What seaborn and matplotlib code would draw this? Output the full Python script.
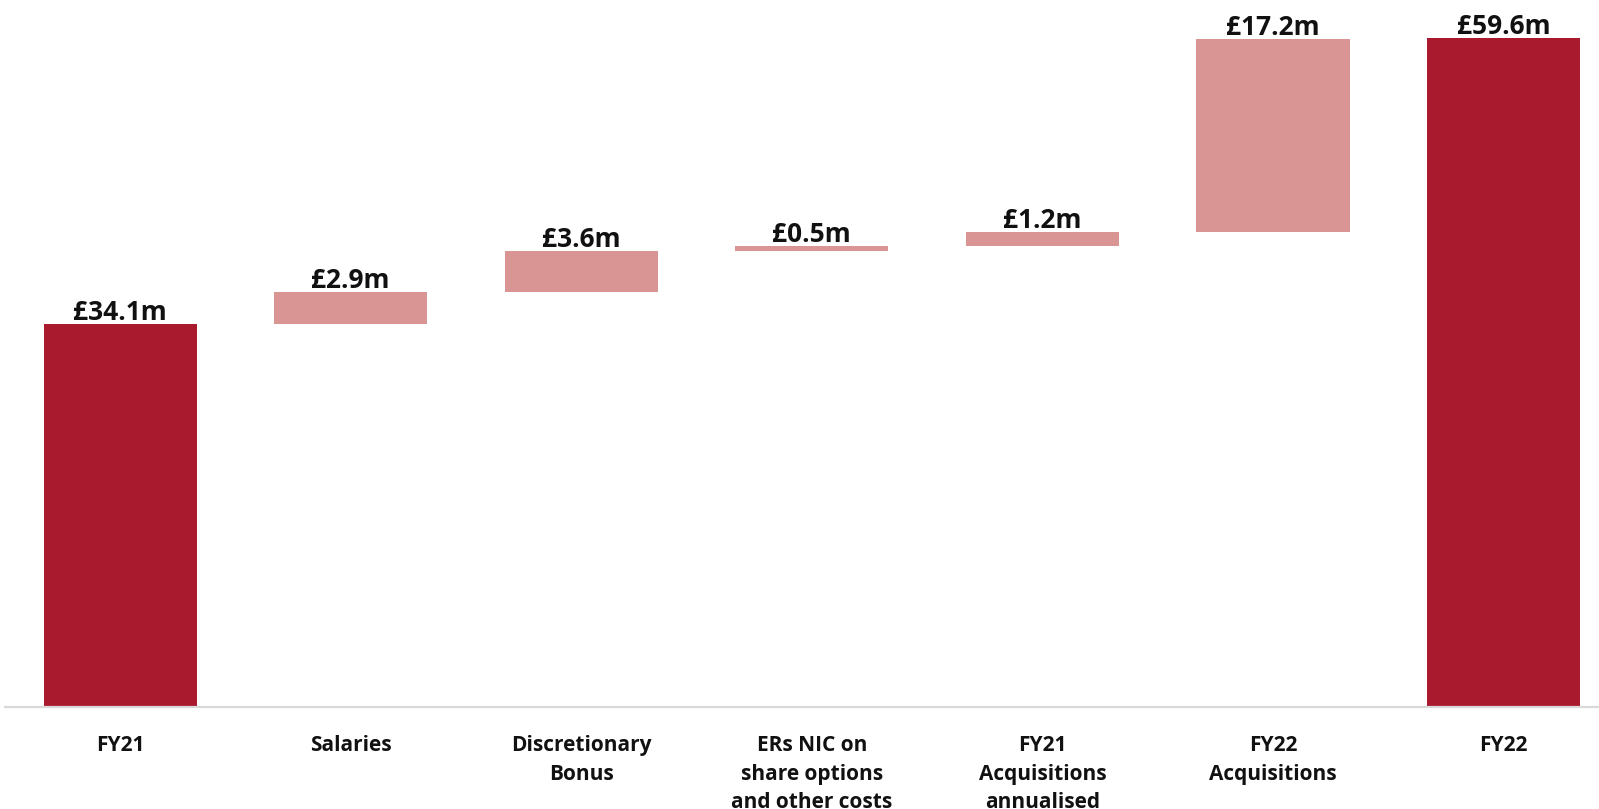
import matplotlib
matplotlib.use("Agg")
import matplotlib.pyplot as plt
import seaborn as sns
import pandas as pd

categories = ["FY21", "Salaries", "Discretionary\nBonus",
              "ERs NIC on\nshare options\nand other costs",
              "FY21\nAcquisitions\nannualised", "FY22\nAcquisitions", "FY22"]
values = [34.1, 2.9, 3.6, 0.5, 1.2, 17.2, 59.6]
kinds = ["total", "delta", "delta", "delta", "delta", "delta", "total"]
value_labels = ["£34.1m", "£2.9m", "£3.6m", "£0.5m", "£1.2m", "£17.2m", "£59.6m"]

total_color = "#AA1A2E"
delta_color = "#D99594"

# waterfall bases
bottoms = []
running = 0.0
for v, k in zip(values, kinds):
    if k == "total":
        bottoms.append(0.0)
        running = v
    else:
        bottoms.append(running)
        running += v

df = pd.DataFrame({"category": categories, "value": values, "bottom": bottoms})

sns.set_theme(style="white")
plt.rcParams["font.family"] = ["Open Sans", "DejaVu Sans"]

fig = plt.figure(figsize=(15.99, 8.09), dpi=100)
ax = fig.add_axes([0.003, 0.126, 1.0094, 0.874])

sns.barplot(data=df, x="category", y="value", order=categories,
            bottom=df["bottom"].values, width=0.664, ax=ax,
            color=total_color, linewidth=0, errorbar=None)

for patch, k in zip(ax.patches, kinds):
    patch.set_facecolor(total_color if k == "total" else delta_color)
    patch.set_edgecolor("none")

for i, (v, b, lab) in enumerate(zip(values, bottoms, value_labels)):
    ax.annotate(lab, xy=(i, v + b), xytext=(0, 3.0), textcoords="offset points",
                ha="center", va="baseline", fontsize=19, fontweight="bold",
                color="#111111")

ax.set_xlim(-0.5, 6.5)
ax.set_ylim(0, 63.0)
ax.set_xlabel("")
ax.set_ylabel("")
ax.set_yticks([])
ax.tick_params(axis="x", length=0, pad=20)
for t in ax.get_xticklabels():
    t.set_fontsize(15)
    t.set_fontweight("bold")
    t.set_color("#111111")
    t.set_linespacing(1.48)
    t.set_verticalalignment("top")

for s in ["top", "left", "right"]:
    ax.spines[s].set_visible(False)
ax.spines["bottom"].set_color("#d9d9d9")
ax.spines["bottom"].set_linewidth(1.6)

fig.savefig("out.png", dpi=100)
